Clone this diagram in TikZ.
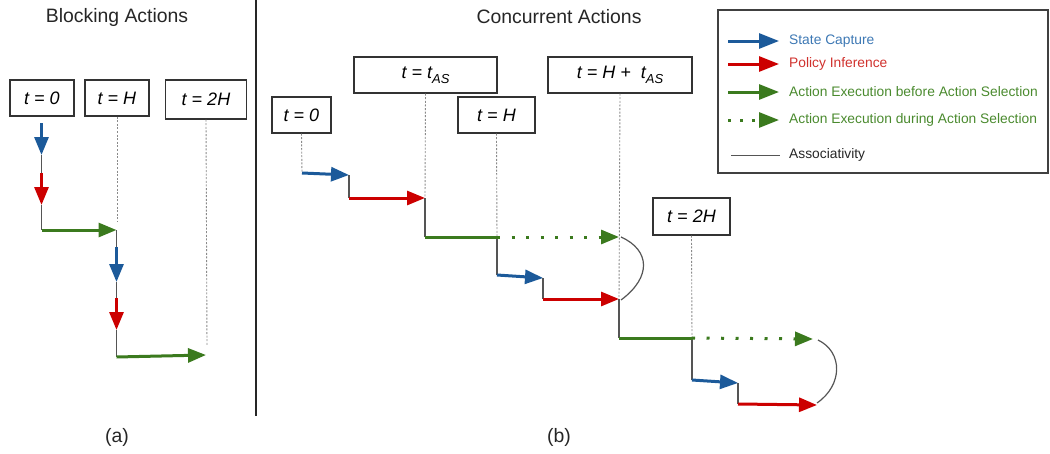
\documentclass[tikz,border=0pt]{standalone}
\usepackage{fontspec}
\setmainfont{Liberation Sans}
\usetikzlibrary{arrows.meta}
\definecolor{cblue}{HTML}{1C5A9A}
\definecolor{cred}{HTML}{CC0000}
\definecolor{cgreen}{HTML}{3B7A1E}
\definecolor{tblue}{HTML}{3D78B4}
\definecolor{tred}{HTML}{D0312D}
\definecolor{tgreen}{HTML}{4A8A2E}
\definecolor{cgray}{HTML}{555555}
\definecolor{gguide}{HTML}{8A8A8A}
\begin{document}
\begin{tikzpicture}[x=1pt,y=-1pt,
  tbox/.style={draw=black!80, line width=1.2pt, minimum height=36pt, inner sep=0pt,
    font=\fontsize{18}{20}\selectfont\itshape},
  tip/.style={-{Triangle[length=18pt,width=14pt]}},
  ltip/.style={-{Triangle[length=20pt,width=15pt]}},
  sc/.style={cblue, line width=3pt},
  pinf/.style={cred, line width=3pt},
  ex/.style={cgreen, line width=3pt},
  exd/.style={cgreen, line width=3pt, dash pattern=on 3pt off 11.5pt},
  assoc/.style={cgray, line width=1.2pt},
  guide/.style={gguide, line width=0.9pt, dash pattern=on 2pt off 1.6pt},
  title/.style={font=\fontsize{19.4}{21}\selectfont, text=black!85},
  leg/.style={anchor=west, font=\fontsize{13.8}{15}\selectfont, inner sep=0pt}
]
\useasboundingbox (0,0) rectangle (1050,453);

% titles
\node[title] (ta) at (117,17) {Blocking Actions};
\node[title] (tb) at (559,17) {Concurrent Actions};
\node[title] (la) at (117,437) {(a)};
\node[title] (lb) at (559,437) {(b)};

% divider
\coordinate (d1) at (256,0);
\coordinate (d2) at (256,416);
\draw[black!85, line width=1.3pt] (d1) -- (d2);

% ---------- panel (a)
\node[tbox, minimum width=64pt] (a0) at (42,98) {t = 0};
\node[tbox, minimum width=64pt] (aH) at (117,98) {t = H};
\node[tbox, minimum width=81pt, minimum height=39pt] (a2H) at (206,99.5) {t = 2H};

\coordinate (aHe) at (117,222);
\coordinate (a2He) at (207,346);
\draw[guide] (aH.south) -- (aHe);
\draw[guide] (a2H.south) -- (a2He);

\coordinate (p1) at (41.5,123);
\coordinate (p2) at (41.5,155);
\coordinate (p3) at (41.5,173);
\coordinate (p4) at (41.5,205);
\coordinate (p5) at (41.5,230);
\coordinate (p6) at (116.5,230);
\coordinate (p7) at (116.5,247);
\coordinate (p8) at (116.5,282);
\coordinate (p9) at (116.5,298);
\coordinate (p10) at (116.5,330);
\coordinate (p11) at (116.5,357);
\coordinate (p12) at (206,355);
\draw[assoc] (p2) -- (p3);
\draw[assoc] (p4) -- (p5);
\draw[assoc] (p6) -- (p7);
\draw[assoc] (p8) -- (p9);
\draw[assoc] (p10) -- (p11);
\draw[sc, tip] (p1) -- (p2);
\draw[pinf, tip] (p3) -- (p4);
\draw[ex, tip] (p5) -- (p6);
\draw[sc, tip] (p7) -- (p8);
\draw[pinf, tip] (p9) -- (p10);
\draw[ex, tip] (p11) -- (p12);

% ---------- panel (b)
\node[tbox, minimum width=59pt] (b0) at (301.5,115) {t = 0};
\node[tbox, minimum width=143pt] (bAS) at (425.5,75) {t = t\raisebox{-5pt}{\fontsize{13}{13}\selectfont AS}};
\node[tbox, minimum width=77pt] (bH) at (496.5,115) {t = H};
\node[tbox, minimum width=144pt] (bHAS) at (620,75) {t = H +\ \ t\raisebox{-5pt}{\fontsize{13}{13}\selectfont AS}};
\node[tbox, minimum width=77pt, minimum height=37pt] (b2H) at (691.5,216.5) {t = 2H};

\coordinate (q1) at (302,173);
\coordinate (q2) at (349,175);
\coordinate (q3) at (349,198);
\coordinate (q4) at (425,198);
\coordinate (q5) at (425,237);
\coordinate (q6) at (497,237);
\coordinate (q7) at (619,237);
\coordinate (q8) at (497,275);
\coordinate (q9) at (543,278);
\coordinate (q10) at (543,299);
\coordinate (q11) at (619,299);
\coordinate (q12) at (619,338);
\coordinate (q13) at (692,338);
\coordinate (q14) at (813,339);
\coordinate (q15) at (692,380);
\coordinate (q16) at (738,383);
\coordinate (q17) at (738,404);
\coordinate (q18) at (817,405);
\coordinate (c1a) at (621,237);
\coordinate (c1b) at (621,300);
\coordinate (c2a) at (818,340);
\coordinate (c2b) at (817,403);
\coordinate (g5) at (692,338);
\coordinate (g4) at (619,300);

\draw[guide] (b0.south) -- (q1);
\draw[guide] (bAS.south) -- (q4);
\draw[guide] (bH.south) -- (q6);
\draw[guide] (bHAS.south) -- (g4);
\draw[guide] (b2H.south) -- (g5);

\draw[assoc] (q2) -- (q3);
\draw[assoc] (q4) -- (q5);
\draw[assoc] (q6) -- (q8);
\draw[assoc] (q9) -- (q10);
\draw[assoc] (q11) -- (q12);
\draw[assoc] (q13) -- (q15);
\draw[assoc] (q16) -- (q17);
\draw[assoc] (c1a) .. controls (650,250) and (652,277) .. (c1b);
\draw[assoc] (c2a) .. controls (843,352) and (843,385) .. (c2b);

\draw[sc, tip] (q1) -- (q2);
\draw[pinf, tip] (q3) -- (q4);
\draw[ex] (q5) -- (q6);
\draw[exd, tip] (q6) -- (q7);
\draw[sc, tip] (q8) -- (q9);
\draw[pinf, tip] (q10) -- (q11);
\draw[ex] (q12) -- (q13);
\draw[exd, tip] (q13) -- (q14);
\draw[sc, tip] (q15) -- (q16);
\draw[pinf, tip] (q17) -- (q18);

% ---------- legend
\node[draw=black!75, line width=1.2pt, minimum width=330pt, minimum height=163pt, inner sep=0pt] (legend) at (883,91.5) {};
\coordinate (l1a) at (728,41);  \coordinate (l1b) at (779,41);
\coordinate (l2a) at (728,64);  \coordinate (l2b) at (779,64);
\coordinate (l3a) at (728,92);  \coordinate (l3b) at (779,92);
\coordinate (l4a) at (728,120); \coordinate (l4b) at (779,120);
\coordinate (l5a) at (731,155); \coordinate (l5b) at (780,155);
\draw[sc, ltip] (l1a) -- (l1b);
\draw[pinf, ltip] (l2a) -- (l2b);
\draw[ex, ltip] (l3a) -- (l3b);
\draw[cgreen, line width=3pt, dash pattern=on 3pt off 9pt, ltip] (l4a) -- (l4b);
\draw[cgray, line width=1pt] (l5a) -- (l5b);
\node[leg, text=tblue] (t1) at (789,41) {State Capture};
\node[leg, text=tred] (t2) at (789,64) {Policy Inference};
\node[leg, text=tgreen] (t3) at (789,92) {Action Execution before Action Selection};
\node[leg, text=tgreen] (t4) at (789,120) {Action Execution during Action Selection};
\node[leg, text=black!85] (t5) at (789,155) {Associativity};
\end{tikzpicture}
\end{document}
